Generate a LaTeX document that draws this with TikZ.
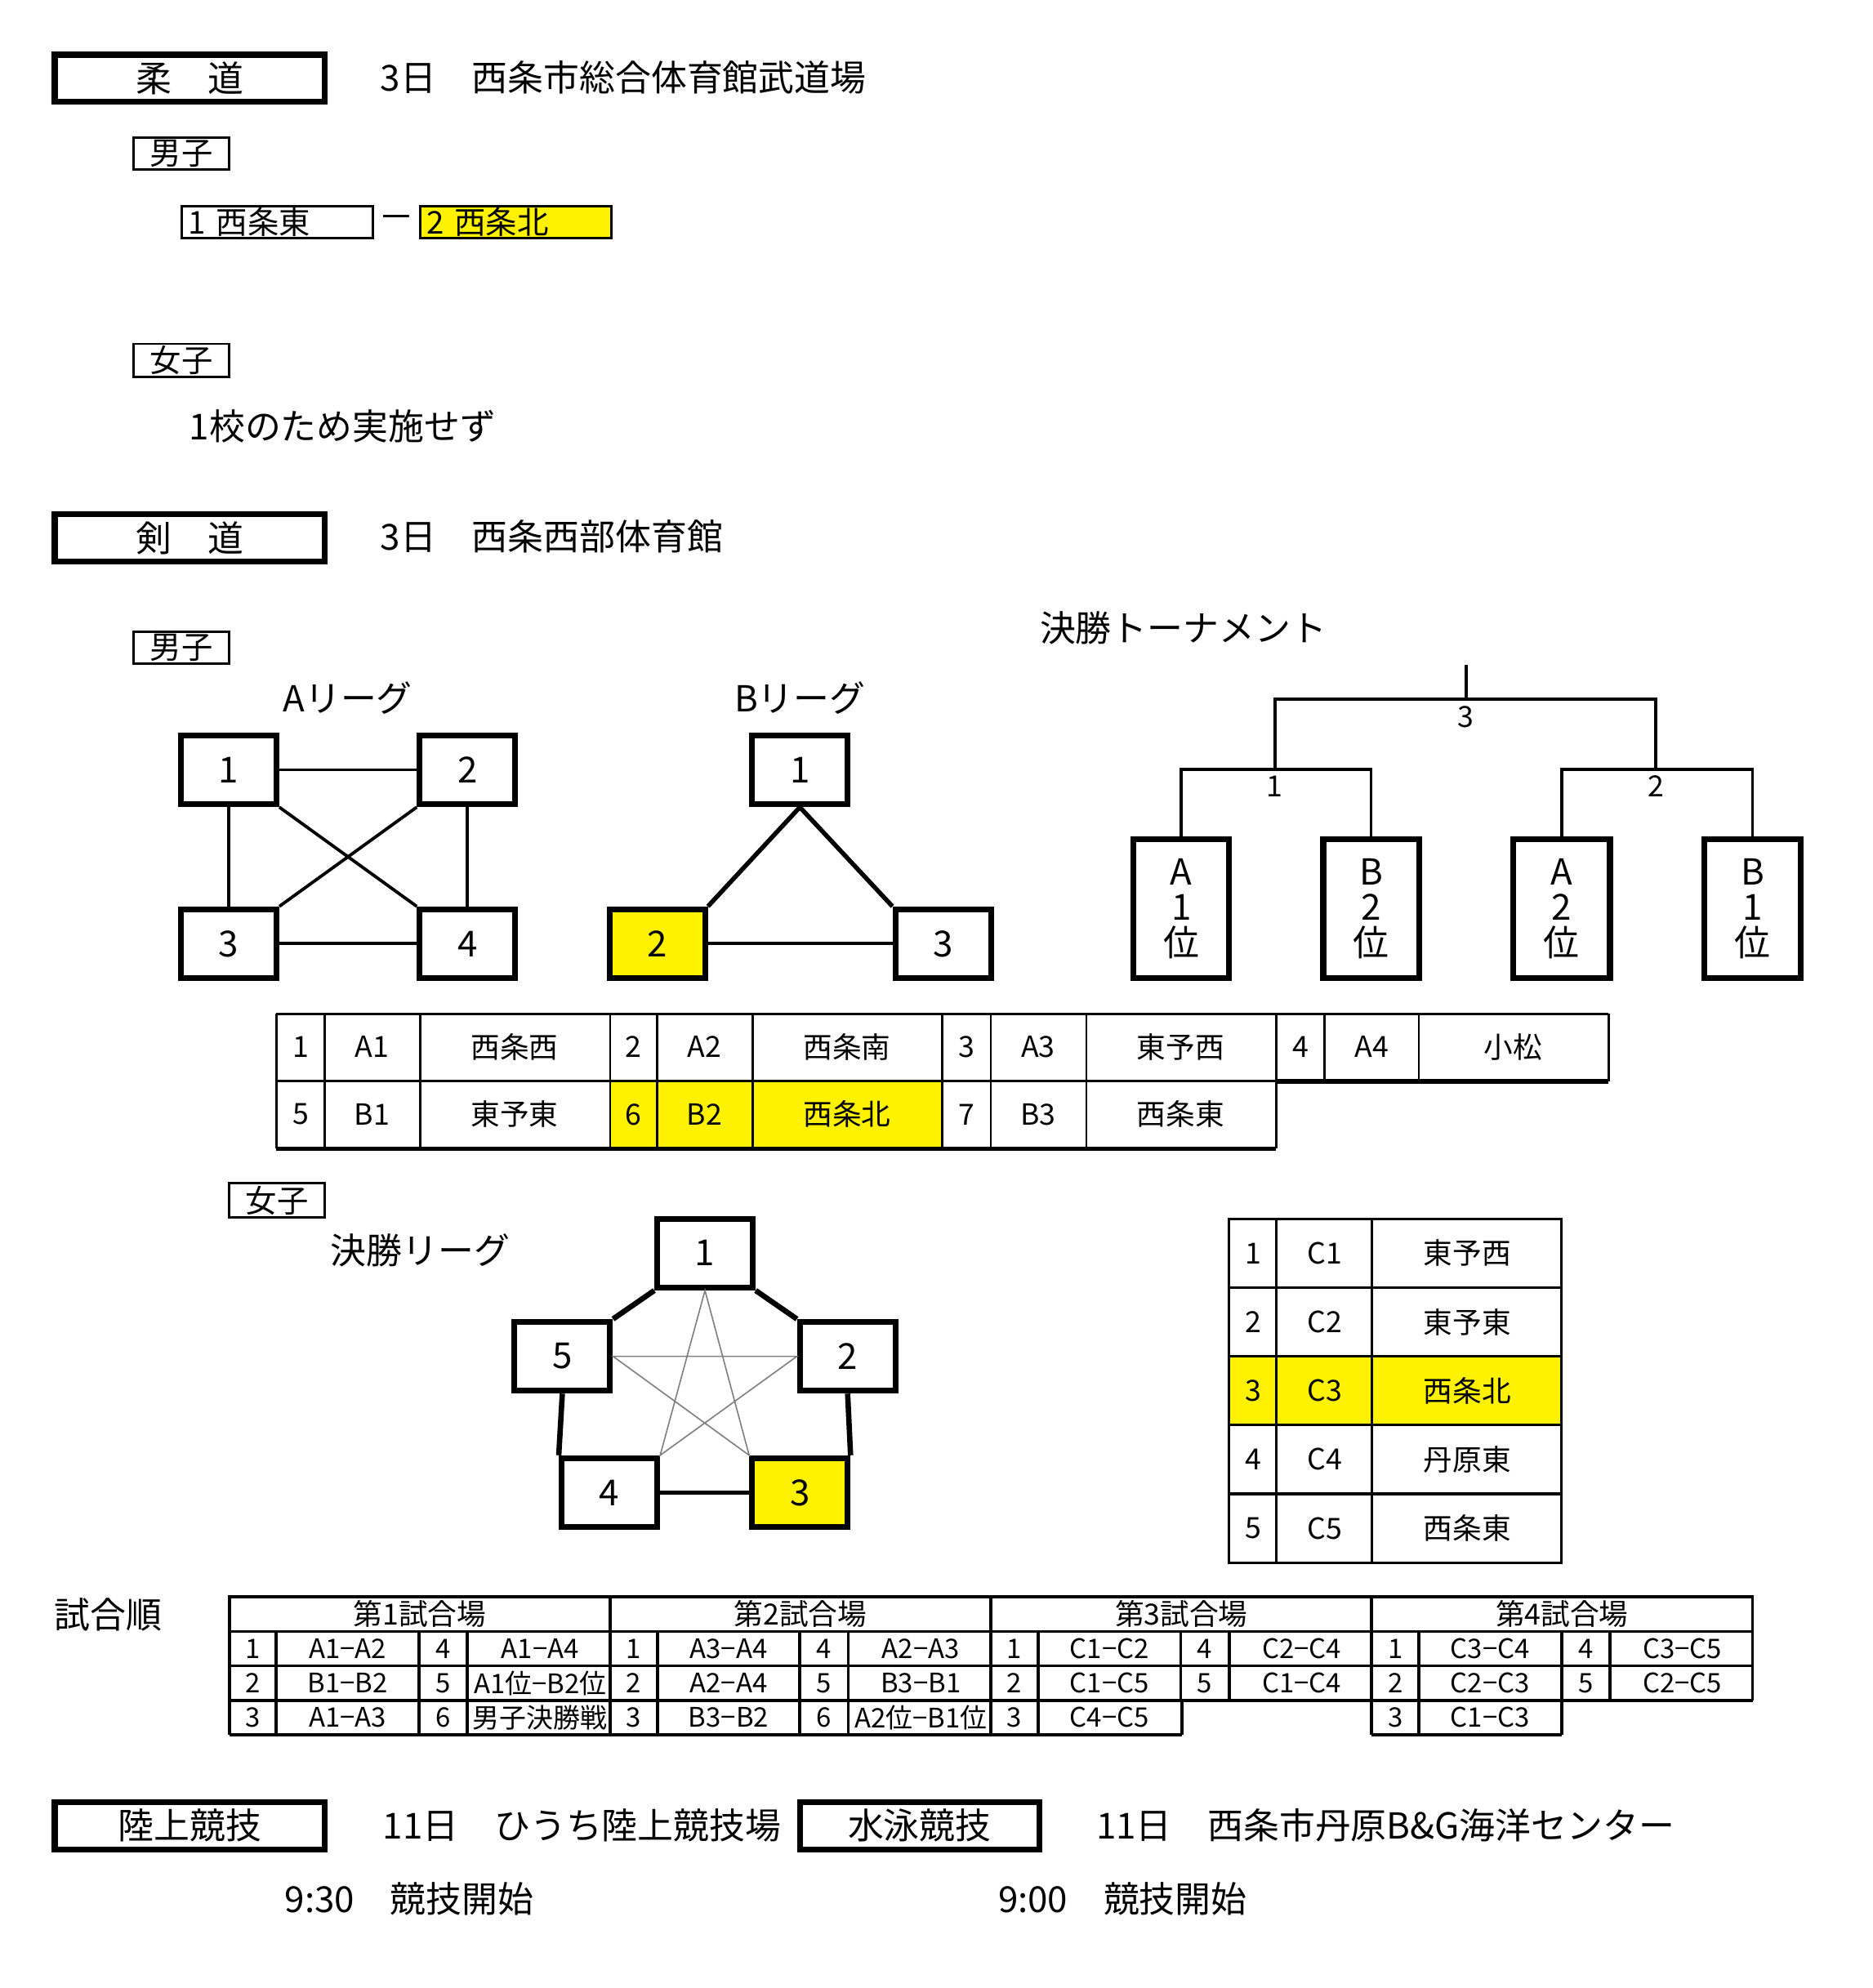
\documentclass[tikz,border=0pt]{standalone}
\usepackage{fontspec}
\setmainfont{Noto Sans CJK JP}
\usetikzlibrary{positioning}
\tikzset{
  big/.style={draw, line width=1.3pt, inner sep=0pt, font=\fontsize{8}{8}\selectfont},
  small/.style={draw, line width=0.5pt, inner sep=0pt, font=\fontsize{7}{7}\selectfont},
  txt/.style={inner sep=0pt, font=\fontsize{8}{8}\selectfont},
  ttxt/.style={inner sep=0pt, font=\fontsize{6.5}{6.5}\selectfont},
  stxt/.style={inner sep=0pt, font=\fontsize{6}{6}\selectfont},
  lg/.style={big, minimum width=0.75cm, minimum height=0.54cm},
  hl/.style={fill=yellow}
}
\begin{document}
\begin{tikzpicture}[x=0.01cm, y=-0.01cm]
        \useasboundingbox (0,0) rectangle (1470,1561);
        % Judo
        \node[big, minimum width=2.12cm, minimum height=0.37cm] at (149,61.5) (judo) {柔　道};
        \node[txt, anchor=west] at (298,61) (judoinfo) {3日　西条市総合体育館武道場};
        \node[small, minimum width=0.75cm, minimum height=0.25cm] at (142.5,120.5) (jm) {男子};
        \node[small, anchor=west, minimum width=1.5cm, minimum height=0.25cm, text width=1.4cm] at (142,174.5) (jm1) {1 西条東};
        \node[txt] at (311,174.5) (dash) {－};
        \node[small, hl, anchor=west, minimum width=1.5cm, minimum height=0.25cm, text width=1.4cm] at (329,174.5) (jm2) {2 西条北};
        \node[small, minimum width=0.75cm, minimum height=0.26cm] at (142.5,283) (jf) {女子};
        \node[txt, anchor=west] at (148,335) (jfnote) {1校のため実施せず};

        % Kendo
        \node[big, minimum width=2.12cm, minimum height=0.37cm] at (149,422.5) (kendo) {剣　道};
        \node[txt, anchor=west] at (298,421) (kendoinfo) {3日　西条西部体育館};
        \node[small, minimum width=0.75cm, minimum height=0.25cm] at (142.5,508.5) (km) {男子};

        % A league
        \node[txt] at (273,548) (alabel) {Aリーグ};
        \node[lg] at (179.5,604.5) (a1) {1};
        \node[lg] at (367,604.5) (a2) {2};
        \node[lg] at (179.5,741) (a3) {3};
        \node[lg] at (367,741) (a4) {4};
        \draw[line width=0.7pt] (a1) -- (a2);
        \draw[line width=0.7pt] (a1) -- (a3);
        \draw[line width=0.7pt] (a2) -- (a4);
        \draw[line width=0.7pt] (a3) -- (a4);
        \draw[line width=0.7pt] (a1.south east) -- (a4.north west);
        \draw[line width=0.7pt] (a2.south west) -- (a3.north east);

        % B league
        \node[txt] at (628,548) (blabel) {Bリーグ};
        \node[lg] at (628,604.5) (b1) {1};
        \node[lg, hl] at (516,741) (b2) {2};
        \node[lg] at (740.5,741) (b3) {3};
        \draw[line width=1pt] (b1.south) -- (b2.north east);
        \draw[line width=1pt] (b1.south) -- (b3.north west);
        \draw[line width=0.7pt] (b2) -- (b3);

        % Tournament
        \node[txt] at (929,493) (tlabel) {決勝トーナメント};
        \node[big, minimum width=0.75cm, minimum height=1.09cm, align=center] at (927.5,713.5) (t1) {A\\1\\位};
        \node[big, minimum width=0.75cm, minimum height=1.09cm, align=center] at (1076.5,713.5) (t2) {B\\2\\位};
        \node[big, minimum width=0.76cm, minimum height=1.09cm, align=center] at (1226,713.5) (t3) {A\\2\\位};
        \node[big, minimum width=0.76cm, minimum height=1.09cm, align=center] at (1376,713.5) (t4) {B\\1\\位};
        \coordinate (top) at (1151,522);
        \draw[line width=0.7pt] (t1.north) |- (1001,604) node[ttxt, below=0.04cm, pos=1] (s1) {1} -| (t2.north);
        \draw[line width=0.7pt] (t3.north) |- (1300,604) node[ttxt, below=0.04cm, pos=1] (s2) {2} -| (t4.north);
        \draw[line width=0.7pt] (1001,604) |- (1151,549) node[ttxt, below=0.04cm, pos=1] (s3) {3} -| (1300,604);
        \draw[line width=0.7pt] (top) -- (1151,549);

        % Kendo men table
        \fill[yellow] (479,849) rectangle (740,902);
        \draw[line width=0.5pt] (217,796) -- (1263,796);
        \draw[line width=0.5pt] (217,849) -- (1263,849);
        \draw[line width=1pt] (217,902) -- (1002,902);
        \draw[line width=1pt] (1002,849) -- (1263,849);
        \foreach \x in {217,255,330,479,516,591,740,778,853,1002}
          \draw[line width=0.5pt] (\x,796) -- (\x,902);
        \foreach \x in {1040,1114,1263}
          \draw[line width=0.5pt] (\x,796) -- (\x,849);
        \foreach \x/\y/\t in {236/822/1, 292/822/A1, 404/822/西条西, 497/822/2, 553/822/A2, 665/822/西条南,
            759/822/3, 815/822/A3, 927/822/東予西, 1021/822/4, 1077/822/A4, 1188/822/小松,
            236/875/5, 292/875/B1, 404/875/東予東, 497/875/6, 553/875/B2, 665/875/西条北,
            759/875/7, 815/875/B3, 927/875/西条東}
          \node[ttxt] at (\x,\y) {\t};

        % Kendo women
        \node[small, minimum width=0.75cm, minimum height=0.27cm] at (217.5,942.5) (kf) {女子};
        \node[txt] at (330,982) (flabel) {決勝リーグ};
        \node[lg] at (553.5,984) (c1) {1};
        \node[lg] at (665.5,1065) (c2) {2};
        \node[lg, hl] at (628,1172) (c3) {3};
        \node[lg] at (478.5,1172) (c4) {4};
        \node[lg] at (441.5,1065) (c5) {5};
        \draw[line width=1.2pt] (c1.south east) -- (c2.north west);
        \draw[line width=1.2pt] (c1.south west) -- (c5.north east);
        \draw[line width=1.2pt] (c2.south) -- (c3.north east);
        \draw[line width=1.2pt] (c5.south) -- (c4.north west);
        \draw[line width=1pt] (c4) -- (c3);
        \draw[line width=0.3pt, gray] (c1.south) -- (c4.north east) -- (c2.west) -- (c5.east) -- (c3.north west) -- cycle;

        % Women table
        \fill[yellow] (965,1065) rectangle (1226,1119);
        \draw[line width=0.6pt] (965,957) rectangle (1226,1227);
        \foreach \y in {1011,1065,1119,1173}
          \draw[line width=0.6pt] (965,\y) -- (1226,\y);
        \foreach \x in {1002,1077}
          \draw[line width=0.6pt] (\x,957) -- (\x,1227);
        \foreach \n/\c/\s [count=\i] in {1/C1/東予西, 2/C2/東予東, 3/C3/西条北, 4/C4/丹原東, 5/C5/西条東}
        {
          \node[ttxt] at (984,930+54*\i) {\n};
          \node[ttxt] at (1040,930+54*\i) {\c};
          \node[ttxt] at (1152,930+54*\i) {\s};
        }

        % Match order
        \node[txt] at (85,1268) (order) {試合順};
        \draw[line width=0.7pt] (180,1254) rectangle (1376,1281);
        \draw[line width=0.7pt] (180,1308) -- (1376,1308);
        \draw[line width=0.7pt] (180,1335) -- (1376,1335);
        \draw[line width=0.7pt] (180,1362) -- (928,1362);
        \draw[line width=0.7pt] (1077,1362) -- (1226,1362);
        \foreach \b [count=\i] in {180,479,778,1077}
        {
          \node[ttxt] at (\b+149.5,1267.5) {第\i 試合場};
          \draw[line width=0.7pt] (\b,1254) -- (\b,1335);
          \foreach \d in {37,149,187}
            \draw[line width=0.7pt] (\b+\d,1281) -- (\b+\d,1335);
        }
        \draw[line width=0.7pt] (1376,1254) -- (1376,1335);
        \foreach \x in {180,217,329,367,479,516,628,666,778,815,928}
          \draw[line width=0.7pt] (\x,1335) -- (\x,1362);
        \foreach \x in {1077,1114,1226}
          \draw[line width=0.7pt] (\x,1335) -- (\x,1362);
        \foreach \b/\y/\p/\q/\r/\s in {
            180/1294.5/1/A1−A2/4/A1−A4, 180/1321.5/2/B1−B2/5/A1位−B2位, 180/1348.5/3/A1−A3/6/男子決勝戦,
            479/1294.5/1/A3−A4/4/A2−A3, 479/1321.5/2/A2−A4/5/B3−B1, 479/1348.5/3/B3−B2/6/A2位−B1位,
            778/1294.5/1/C1−C2/4/C2−C4, 778/1321.5/2/C1−C5/5/C1−C4, 778/1348.5/3/C4−C5//,
            1077/1294.5/1/C3−C4/4/C3−C5, 1077/1321.5/2/C2−C3/5/C2−C5, 1077/1348.5/3/C1−C3//}
        {
          \node[stxt] at (\b+18.5,\y) {\p};
          \node[stxt] at (\b+93,\y) {\q};
          \node[stxt] at (\b+168,\y) {\r};
          \node[stxt] at (\b+244,\y) {\s};
        }

        % Athletics and swimming
        \node[big, minimum width=2.12cm, minimum height=0.37cm] at (149,1433.5) (track) {陸上競技};
        \node[txt, anchor=west] at (300,1433) (trackinfo) {11日　ひうち陸上競技場};
        \node[big, minimum width=1.88cm, minimum height=0.37cm] at (722,1433.5) (swim) {水泳競技};
        \node[txt, anchor=west] at (860,1433) (swiminfo) {11日　西条市丹原B\&G海洋センター};
        \node[txt, anchor=west] at (223,1491) (tracktime) {9:30　競技開始};
        \node[txt, anchor=west] at (783,1491) (swimtime) {9:00　競技開始};
\end{tikzpicture}
\end{document}
